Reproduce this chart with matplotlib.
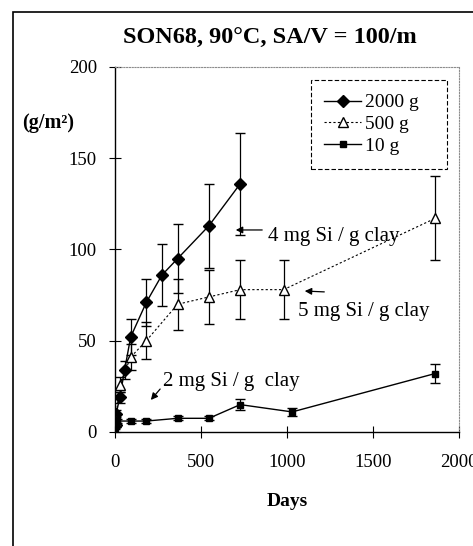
import matplotlib
matplotlib.use("Agg")
import matplotlib.pyplot as plt
from matplotlib.patches import Rectangle
from matplotlib.lines import Line2D

plt.rcParams['font.family'] = ['Liberation Serif', 'DejaVu Serif']

# 2000 g clay
days_2000 = [3, 7, 28, 56, 91, 182, 273, 364, 546, 728]
vals_2000 = [4, 10, 19, 34, 52, 71, 86, 95, 113, 136]
err_2000 = [1, 2, 3, 5, 10, 13, 17, 19, 23, 28]

# 500 g clay
days_500 = [3, 28, 91, 182, 364, 546, 728, 980, 1860]
vals_500 = [6, 26, 41, 50, 70, 74, 78, 78, 117]
err_500 = [1, 4, 7, 10, 14, 15, 16, 16, 23]

# 10 g clay
days_10 = [1, 3, 14, 91, 182, 364, 546, 728, 1030, 1860]
vals_10 = [2, 4, 6, 6, 6, 7.5, 7.5, 15, 11, 32]
err_10 = [0.5, 1, 1, 1, 1, 1, 1, 3, 2, 5]

fig = plt.figure(figsize=(4.73, 5.46), dpi=100)
ax = fig.add_axes([0.2431, 0.2088, 0.7273, 0.6685])

ax.errorbar(days_2000, vals_2000, yerr=err_2000, color='black', lw=1.0,
            marker='D', ms=6.5, mfc='black', mec='black', capsize=3.5,
            elinewidth=0.9, label='2000 g', zorder=3)
ax.errorbar(days_500, vals_500, yerr=err_500, color='black', lw=0.8,
            ls=(0, (2, 2)), marker='^', ms=7.5, mfc='white', mec='black',
            capsize=3.5, elinewidth=0.9, label='500 g', zorder=3)
ax.errorbar(days_10, vals_10, yerr=err_10, color='black', lw=1.0,
            marker='s', ms=4.5, mfc='black', mec='black', capsize=3.5,
            elinewidth=0.9, label='10 g', zorder=3)

ax.set_xlim(0, 2000)
ax.set_ylim(0, 200)
ax.set_xticks([0, 500, 1000, 1500, 2000])
ax.set_yticks([0, 50, 100, 150, 200])
ax.tick_params(direction='inout', length=8, width=0.8, labelsize=13.5)
ax.tick_params(axis='x', pad=12)
ax.tick_params(axis='y', pad=9)

for s in ['top', 'right']:
    ax.spines[s].set_color('0.55')
    ax.spines[s].set_linestyle((0, (1, 1.5)))
    ax.spines[s].set_linewidth(0.8)
for s in ['left', 'bottom']:
    ax.spines[s].set_linewidth(1.0)

ax.set_xlabel('Days', fontsize=14, fontweight='bold', labelpad=16)
fig.text(0.101, 0.775, '(g/m²)', fontsize=14.5, fontweight='bold',
         ha='center', va='center')
fig.text(0.571, 0.930, 'SON68, 90°C, SA/V = 100/m', fontsize=17.5,
         fontweight='bold', ha='center', va='center')

# annotations
arrow = dict(arrowstyle='-|>', color='black', lw=0.9, mutation_scale=10)
ax.annotate('', xy=(686, 110.7), xytext=(872, 110.7), arrowprops=arrow)
ax.text(890, 107, '4 mg Si / g clay', fontsize=15, va='center')
ax.annotate('', xy=(1087, 77.3), xytext=(1233, 76.7), arrowprops=arrow)
ax.text(1064, 65.8, '5 mg Si / g clay', fontsize=15, va='center')
ax.annotate('', xy=(198, 16.4), xytext=(273, 24.7), arrowprops=arrow)
ax.text(279, 27.4, '2 mg Si / g  clay', fontsize=15, va='center')

handles = [
    Line2D([0], [0], color='black', lw=1.0, marker='D', ms=6.5, mfc='black'),
    Line2D([0], [0], color='black', lw=0.8, ls=(0, (2, 2)), marker='^', ms=7,
           mfc='white', mec='black'),
    Line2D([0], [0], color='black', lw=1.0, marker='s', ms=4.5, mfc='black'),
]
leg = ax.legend(handles, ['2000 g   ', '500 g', '10 g'], loc='upper right',
                bbox_to_anchor=(0.965, 0.964), borderaxespad=0, fontsize=14,
                handlelength=1.9, handletextpad=0.2, labelspacing=0.22,
                fancybox=False, framealpha=1, edgecolor='black',
                borderpad=0.7)
leg.get_frame().set_linestyle((0, (4, 2)))
leg.get_frame().set_linewidth(0.8)

# outer frame of the figure panel
fig.patches.append(Rectangle((13 / 473, -0.1), 1.2, 1.1 - 12 / 546,
                             transform=fig.transFigure, fill=False,
                             lw=1.2, color='black'))

fig.savefig('out.png', dpi=100)
